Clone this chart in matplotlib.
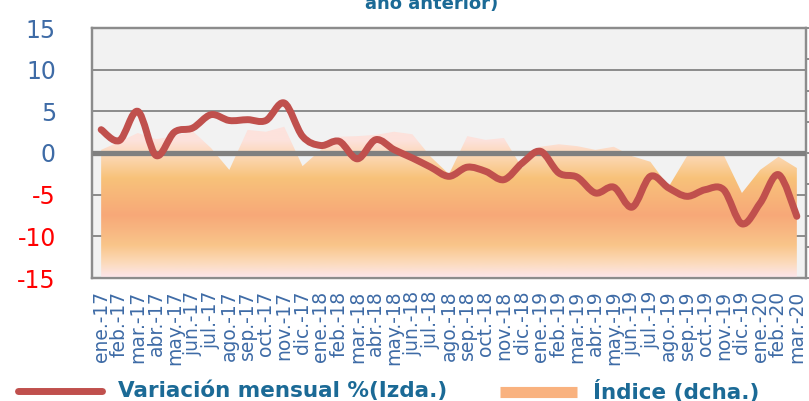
import numpy as np
import matplotlib
matplotlib.use('Agg')
import matplotlib.pyplot as plt
from matplotlib.path import Path
from matplotlib.patches import PathPatch
from matplotlib.lines import Line2D
from matplotlib.colors import LinearSegmentedColormap

# meses ene.-17 ... mar.-20
meses = ['ene.', 'feb.', 'mar.', 'abr.', 'may.', 'jun.', 'jul.', 'ago.', 'sep.', 'oct.', 'nov.', 'dic.']
etiquetas = [m + '-' + a for a in ['17', '18', '19'] for m in meses] + ['ene.-20', 'feb.-20', 'mar.-20']

# variacion mensual % (eje izquierdo)
variacion = [2.8, 1.5, 5.0, -0.3, 2.5, 3.0, 4.6, 3.9, 4.0, 3.9, 6.0, 2.0,
             0.9, 1.4, -0.7, 1.6, 0.4, -0.6, -1.7, -2.8, -1.7, -2.2, -3.2, -1.2,
             0.2, -2.4, -2.9, -4.8, -4.1, -6.5, -2.8, -4.2, -5.2, -4.4, -4.4, -8.5,
             -6.0, -2.6, -7.6]

# indice (eje derecho)
indice = [100.5, 101.8, 103.2, 102.2, 102.7, 103.5, 100.8, 97.3, 103.7, 103.4, 104.2, 97.9,
          100.5, 102.6, 102.7, 102.9, 103.4, 103.0, 99.4, 96.6, 102.7, 102.1, 102.4, 97.6,
          101.0, 101.4, 101.1, 100.5, 101.0, 99.5, 98.6, 94.6, 99.5, 99.7, 99.7, 93.6,
          97.3, 99.4, 97.6]

azul = '#3E6BA6'
titulo_col = '#1B6A96'
gris = '#8C8C8C'
rojo = '#C0504D'

fig = plt.figure(figsize=(8.09, 4.01), dpi=100)
ax = fig.add_axes([92 / 809, 1 - 278 / 401, 714 / 809, 250 / 401])
ax2 = ax.twinx()

x = np.arange(len(etiquetas))

# fondo y rejilla (eje izquierdo, detras)
ax.set_facecolor('#F2F2F2')
ax.set_xlim(-0.5, len(etiquetas) - 0.5)
ax.set_ylim(-15, 15)
ax.set_yticks([15, 10, 5, 0, -5, -10, -15])
for v in [15, 10, 5, -5, -10]:
    ax.axhline(v, color=gris, lw=1.4, zorder=1)

# area del indice con degradado
ax2.set_ylim(80, 120)
ax2.set_xlim(-0.5, len(etiquetas) - 0.5)
poly = ax2.fill_between(x, 80, indice, facecolor='none', edgecolor='none')
cmap = LinearSegmentedColormap.from_list('ind', [
    (0.0, '#FCE6EC'), (0.06, '#FCDABA'), (0.13, '#F9C58A'), (0.25, '#F7A878'),
    (0.40, '#F8C27A'), (0.47, '#FBD3A8'), (0.55, '#FDE2DC'), (1.0, '#FDE6E8')])
grad = np.linspace(0, 1, 256).reshape(-1, 1)
im = ax2.imshow(grad, extent=[0, 1, 0, 1], transform=ax2.transAxes, aspect='auto',
                cmap=cmap, origin='lower', zorder=1)
im.set_clip_path(poly.get_paths()[0], ax2.transData)
ax2.set_ylim(80, 120)
ax2.set_xlim(-0.5, len(etiquetas) - 0.5)
ax2.set_yticks(np.arange(80, 121, 5))
ax2.tick_params(axis='y', direction='out', length=4, color=gris, width=1.4, labelright=False)

# linea de cero
ax2.plot([-0.5, len(etiquetas) - 0.5], [0, 0], color='#808080', lw=3.8,
         transform=ax.transData, zorder=3, solid_capstyle='butt')

# linea suavizada (variacion mensual)
p = np.column_stack([x, variacion]).astype(float)
verts = [p[0]]
codes = [Path.MOVETO]
n = len(p)
for i in range(n - 1):
    p0 = p[max(i - 1, 0)]
    p1 = p[i]
    p2 = p[i + 1]
    p3 = p[min(i + 2, n - 1)]
    verts += [p1 + (p2 - p0) / 6, p2 - (p3 - p1) / 6, p2]
    codes += [Path.CURVE4] * 3
ax2.add_patch(PathPatch(Path(verts, codes), fill=False, edgecolor=rojo, lw=5,
                        transform=ax.transData, zorder=4, capstyle='round', joinstyle='round'))

# ejes
for a in (ax, ax2):
    for s in a.spines.values():
        s.set_color(gris)
        s.set_linewidth(1.6)

ax.tick_params(axis='y', direction='in', length=6, color=gris, width=1.4, pad=26, labelsize=17)
ax.set_yticklabels(['15', '10', '5', '0', '-5', '-10', '-15'])
for t, v in zip(ax.get_yticklabels(), [15, 10, 5, 0, -5, -10, -15]):
    t.set_color(azul if v >= 0 else '#FF0000')

ax.set_xticks(x)
ax.set_xticklabels(etiquetas, rotation=90, color=azul, fontsize=13.5)
ax.tick_params(axis='x', length=0, pad=9)

# titulo (cortado arriba)
fig.text(0.533, 1 - 9 / 401, 'año anterior)', ha='center', va='baseline',
         fontsize=13, fontweight='bold', color=titulo_col)

# leyenda
fig.add_artist(Line2D([18 / 809, 102 / 809], [1 - 391 / 401] * 2, color=rojo, lw=5,
                      solid_capstyle='round'))
fig.text(118 / 809, 1 - 391 / 401, 'Variación mensual %(Izda.)', va='center', ha='left',
         fontsize=15.5, fontweight='bold', color=titulo_col)
fig.add_artist(Line2D([500 / 809, 577 / 809], [1 - 392 / 401] * 2, color='#F9B27F', lw=8,
                      solid_capstyle='butt'))
fig.text(593 / 809, 1 - 391 / 401, 'Índice (dcha.)', va='center', ha='left',
         fontsize=15.5, fontweight='bold', color=titulo_col)

fig.savefig('out.png', dpi=100)
